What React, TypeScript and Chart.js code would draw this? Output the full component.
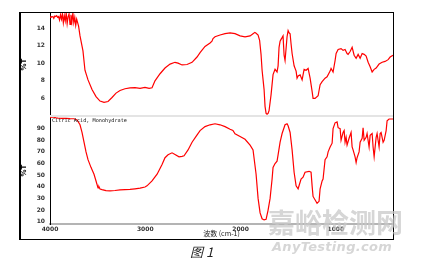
import React, { useEffect, useRef } from "react";
import { Chart, registerables } from "chart.js";
Chart.register(...registerables);

// ---- data ----
const xTickValues = [4000, 3000, 2000, 1000];
const topYTicks = [6, 8, 10, 12, 14];
const botYTicks = [10, 20, 30, 40, 50, 60, 70, 80, 90];

const topWn = [
  4000, 3990, 3980, 3970, 3960, 3950, 3940, 3930, 3920, 3910, 3900, 3890, 3880, 3870, 3860, 3850,
  3840, 3830, 3820, 3810, 3800, 3790, 3780, 3770, 3760, 3750, 3740, 3730, 3720, 3710, 3700,
  3685, 3654, 3633, 3601, 3559, 3517, 3475, 3433, 3391, 3349, 3307, 3265, 3213, 3160, 3108, 3055,
  3003, 2960, 2929, 2898, 2845, 2793, 2740, 2688, 2656, 2614, 2562, 2509, 2457, 2425, 2373, 2320,
  2300, 2289, 2268, 2215, 2163, 2110, 2058, 2005, 1953, 1900, 1869, 1850, 1837, 1816, 1800, 1785,
  1774, 1753, 1743, 1732, 1722, 1711, 1701, 1680, 1659, 1638, 1617, 1606, 1596, 1585, 1575, 1564,
  1554, 1543, 1533, 1522, 1512, 1501, 1491, 1480, 1470, 1459, 1438, 1417, 1407, 1396, 1375, 1354,
  1333, 1312, 1291, 1270, 1249, 1239, 1218, 1186, 1165, 1144, 1113, 1092, 1060, 1050, 1029, 1008,
  997, 976, 945, 924, 903, 882, 871, 850, 829, 808, 787, 766, 745, 724, 703, 682, 661, 640, 619,
  598, 577, 546, 514, 483, 451, 430, 400,
];
const topT = [
  15.2, 15.3, 15.25, 15.3, 15.1, 15.35, 15.3, 15.4, 15.2, 15.3, 14.9, 15.5, 15.0, 15.6, 14.6, 15.4,
  14.8, 15.7, 14.5, 15.3, 15.6, 14.4, 15.5, 14.7, 15.7, 14.6, 15.2, 14.3, 15.0, 14.6, 14.2,
  13.1, 11.4, 9.2, 8.1, 7.0, 6.2, 5.7, 5.55, 5.65, 6.1, 6.6, 6.9, 7.1, 7.2, 7.22, 7.15,
  7.25, 7.15, 7.2, 8.0, 8.8, 9.45, 9.9, 10.1, 10.0, 9.8, 9.85, 10.1, 10.7, 11.2, 11.9, 12.3,
  12.5, 12.8, 13.0, 13.2, 13.35, 13.45, 13.35, 13.1, 13.0, 13.1, 13.35, 13.5, 13.4, 13.2, 12.6, 11.0,
  9.2, 7.0, 5.1, 4.3, 4.2, 4.3, 4.6, 6.4, 8.7, 9.3, 9.0, 9.7, 11.8, 12.5, 12.7, 12.9,
  13.1, 10.9, 10.3, 11.7, 13.0, 13.7, 13.45, 13.35, 12.2, 11.1, 9.7, 9.1, 8.3, 8.55, 8.67, 8.1,
  9.3, 9.2, 9.4, 8.3, 6.8, 6.0, 6.0, 6.3, 7.55, 7.9, 8.3, 8.45, 9.1, 9.4, 9.0, 10.3,
  11.1, 11.55, 11.65, 11.45, 11.55, 11.1, 11.0, 11.33, 11.8, 10.9, 10.55, 11.0, 10.55, 11.1, 11.0, 10.8, 10.1, 9.6, 9.0,
  9.3, 9.45, 9.9, 10.1, 10.2, 10.4, 10.7, 10.9,
];

const botWn = [
  4000, 3979, 3958, 3937, 3916, 3874, 3832, 3790, 3748, 3716, 3685, 3664, 3643, 3622, 3601, 3570,
  3538, 3517, 3496, 3486, 3475, 3454, 3412, 3370, 3318, 3265, 3213, 3160, 3108, 3055, 3003, 2982,
  2929, 2876, 2824, 2793, 2761, 2719, 2688, 2646, 2614, 2593, 2551, 2509, 2467, 2425, 2373, 2320,
  2268, 2215, 2163, 2110, 2080, 2058, 2005, 1953, 1900, 1869, 1837, 1816, 1795, 1774, 1753, 1732,
  1711, 1690, 1669, 1659, 1638, 1617, 1606, 1585, 1564, 1533, 1512, 1501, 1480, 1459, 1438, 1417,
  1396, 1365, 1344, 1323, 1281, 1260, 1249, 1239, 1197, 1176, 1165, 1144, 1134, 1113, 1092, 1081,
  1060, 1039, 1029, 1008, 987, 976, 955, 945, 924, 913, 903, 892, 882, 861, 840, 829, 819, 798,
  787, 777, 756, 745, 724, 714, 703, 682, 672, 651, 640, 619, 609, 598, 577, 567, 546, 535, 525,
  504, 493, 472, 462, 441, 400,
];
const botT = [
  99.5, 100, 99.8, 99.2, 99, 98.8, 98.8, 98.6, 98.5, 97.5, 93.3, 86.7, 78.3, 70, 63.3, 56.7,
  50.8, 45, 39, 40, 38, 37.5, 36.7, 36.5, 36.8, 37.3, 37.5, 37.7, 38.2, 38.8, 39.8, 40.8,
  45, 50.8, 59.2, 65, 67.5, 69.2, 67.8, 65.8, 66.2, 66.7, 71.7, 78.3, 83.3, 88.3, 91.7, 93.3,
  94.2, 93.3, 91.7, 89.5, 88.5, 85.5, 83.3, 80.8, 75.8, 71.7, 50.8, 30, 17.5, 12.5, 11.5, 12,
  20, 30, 46.7, 56.7, 60, 62, 67.5, 78.3, 85.8, 93.3, 94.2, 92.5, 86.7, 71.7, 52.5, 40.8,
  38.3, 46.7, 48.3, 52.5, 53.3, 52.5, 40.8, 31.7, 25.8, 27.5, 38.3, 45, 46.7, 63.3, 65.8, 70,
  74.2, 77.5, 90, 95, 95.8, 90.8, 90, 80, 86.7, 88.3, 78.3, 82.5, 75.8, 81.7, 86.7, 74.2, 71.7, 65.8,
  60.8, 65, 70, 78.3, 81.7, 90.8, 80, 82.5, 85.8, 74.2, 84.2, 85.8, 74.2, 65.8, 82.5, 85.8, 74.2, 85.8, 86.7,
  78.3, 80, 88.3, 96.7, 98.3, 98.3,
];

const tickFont = { family: "'DejaVu Sans', sans-serif", size: 6, weight: "bold" as const };

function makeYScale(min: number, max: number, ticks: number[]) {
  return {
    type: "linear" as const,
    min,
    max,
    afterFit: (s: any) => {
      s.width = 30;
      s.paddingTop = 0;
      s.paddingBottom = 0;
      s.paddingLeft = 0;
      s.paddingRight = 0;
    },
    afterBuildTicks: (a: any) => {
      a.ticks = ticks.map((v) => ({ value: v }));
    },
    grid: { display: false, drawTicks: false },
    border: { display: true, color: "#000", dash: [1, 2], width: 1 },
    ticks: { font: tickFont, color: "#333", padding: 5 },
    title: {
      display: true,
      text: "%T",
      font: { family: "'DejaVu Sans', sans-serif", size: 7, weight: "bold" as const },
      color: "#000",
      padding: 0,
    },
  };
}

const baseOptions = {
  animation: false as const,
  responsive: false,
  maintainAspectRatio: false,
  layout: { padding: 0, autoPadding: false },
  plugins: { legend: { display: false }, tooltip: { enabled: false } },
};

function TopChart() {
  const ref = useRef<HTMLCanvasElement>(null);
  useEffect(() => {
    const chart = new Chart(ref.current!, {
      type: "line",
      data: {
        datasets: [
          {
            data: topWn.map((x, i) => ({ x, y: topT[i] })),
            borderColor: "#ff0000",
            borderWidth: 1.2,
            pointRadius: 0,
            tension: 0,
            fill: false,
          },
        ],
      },
      options: {
        ...baseOptions,
        scales: {
          x: { type: "linear", reverse: true, min: 400, max: 4000, display: false },
          y: makeYScale(4, 15.7, topYTicks) as any,
        },
      } as any,
    });
    return () => chart.destroy();
  }, []);
  return (
    <canvas
      ref={ref}
      width={373}
      height={103}
      style={{ position: "absolute", left: 20, top: 13, width: 373, height: 103 }}
    />
  );
}

function BottomChart() {
  const ref = useRef<HTMLCanvasElement>(null);
  useEffect(() => {
    const chart = new Chart(ref.current!, {
      type: "line",
      data: {
        datasets: [
          {
            data: botWn.map((x, i) => ({ x, y: botT[i] })),
            borderColor: "#ff0000",
            borderWidth: 1.2,
            pointRadius: 0,
            tension: 0,
            fill: false,
          },
        ],
      },
      options: {
        ...baseOptions,
        scales: {
          x: {
            type: "linear",
            reverse: true,
            min: 400,
            max: 4000,
            afterFit: (s: any) => {
              s.height = 14;
              s.paddingTop = 0;
              s.paddingBottom = 0;
              s.paddingLeft = 0;
              s.paddingRight = 0;
            },
            afterBuildTicks: (a: any) => {
              a.ticks = xTickValues.map((v) => ({ value: v }));
            },
            grid: { display: false, drawTicks: false },
            border: { display: true, color: "#b4b4b4", width: 2 },
            ticks: {
              font: tickFont,
              color: "#333",
              padding: 2,
              maxRotation: 0,
              autoSkip: false,
              callback: (v: any) => String(v),
            },
            title: {
              display: true,
              text: "波数 (cm-1)",
              font: { family: "'Noto Sans CJK SC', sans-serif", size: 7 },
              color: "#222",
              padding: { top: 0, bottom: 0 },
            },
          },
          y: makeYScale(8, 100, botYTicks) as any,
        },
      } as any,
    });
    return () => chart.destroy();
  }, []);
  return (
    <canvas
      ref={ref}
      width={373}
      height={121}
      style={{ position: "absolute", left: 20, top: 117, width: 373, height: 121 }}
    />
  );
}

export default function App() {
  return (
    <div
      style={{
        position: "absolute",
        left: 0,
        top: 0,
        width: 422,
        height: 267,
        background: "#fff",
        overflow: "hidden",
      }}
    >
      <TopChart />
      <BottomChart />
      {/* separator between panels */}
      <div
        style={{ position: "absolute", left: 50, top: 115, width: 343, height: 2, background: "#e4e4e4" }}
      />
      {/* outer frame */}
      <div
        style={{
          position: "absolute",
          left: 19,
          top: 12,
          width: 375,
          height: 228,
          boxSizing: "border-box",
          borderTop: "1px solid #000",
          borderLeft: "2px solid #000",
          borderRight: "1px solid #000",
          borderBottom: "1px solid #000",
        }}
      />
      <div
        style={{
          position: "absolute",
          left: 52,
          top: 117,
          fontFamily: "'DejaVu Sans Mono', monospace",
          fontSize: 5.2,
          lineHeight: "6px",
          color: "#111",
          whiteSpace: "pre",
        }}
      >
        Citric Acid, Monohydrate
      </div>
      {/* watermark */}
      <div
        style={{
          position: "absolute",
          left: 268,
          top: 205,
          fontFamily: "'Noto Sans CJK SC', sans-serif",
          fontWeight: "bold",
          fontSize: 27,
          lineHeight: "34px",
          color: "#c8c8c8",
          opacity: 0.75,
          whiteSpace: "nowrap",
        }}
      >
        嘉峪检测网
      </div>
      <div
        style={{
          position: "absolute",
          left: 272,
          top: 239,
          fontFamily: "'DejaVu Sans', sans-serif",
          fontWeight: "bold",
          fontStyle: "italic",
          fontSize: 13,
          lineHeight: "16px",
          color: "#cfcfcf",
          opacity: 0.85,
          whiteSpace: "nowrap",
          letterSpacing: 0.3,
        }}
      >
        AnyTesting.com
      </div>
      {/* caption */}
      <div
        style={{
          position: "absolute",
          left: 190,
          top: 243,
          fontFamily: "'Noto Sans CJK SC', sans-serif",
          fontStyle: "italic",
          fontSize: 13,
          lineHeight: "18px",
          color: "#222",
          whiteSpace: "pre",
        }}
      >
        图 1
      </div>
    </div>
  );
}
